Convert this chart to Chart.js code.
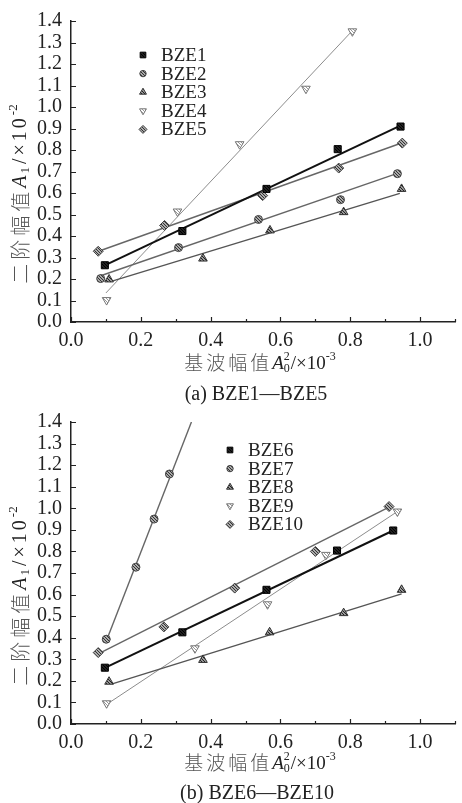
<!DOCTYPE html>
<html>
<head>
<meta charset="utf-8">
<script src="https://cdn.jsdelivr.net/npm/chart.js@4.4.0/dist/chart.umd.min.js"></script>
<style>
  body { margin: 0; background: #fff; }
  .box { position: absolute; left: 0; width: 462px; }
  #boxA { top: 0; height: 412px; }
  #boxB { top: 400px; height: 403px; }
</style>
</head>
<body>
<div class="box" id="boxA"><canvas id="chartA" width="462" height="412"></canvas></div>
<div class="box" id="boxB"><canvas id="chartB" width="462" height="403"></canvas></div>
<script>
// (a) BZE1—BZE5 measured points
const bze1X = [0.097, 0.319, 0.560, 0.764, 0.944];
const bze1Y = [0.264, 0.423, 0.619, 0.804, 0.909];
const bze2X = [0.085, 0.308, 0.537, 0.772, 0.935];
const bze2Y = [0.202, 0.346, 0.477, 0.569, 0.690];
const bze3X = [0.109, 0.378, 0.570, 0.781, 0.947];
const bze3Y = [0.198, 0.295, 0.426, 0.511, 0.619];
const bze4X = [0.102, 0.305, 0.483, 0.673, 0.806];
const bze4Y = [0.102, 0.514, 0.827, 1.085, 1.352];
const bze5X = [0.078, 0.268, 0.549, 0.767, 0.949];
const bze5Y = [0.329, 0.449, 0.588, 0.716, 0.832];

// (a) fitted lines, two ends each
const fit1X = [0.095, 0.942];
const fit1Y = [0.262, 0.912];
const fit2X = [0.085, 0.935];
const fit2Y = [0.215, 0.691];
const fit3X = [0.113, 0.942];
const fit3Y = [0.188, 0.598];
const fit4X = [0.100, 0.806];
const fit4Y = [0.135, 1.355];
const fit5X = [0.079, 0.951];
const fit5Y = [0.329, 0.835];

// (b) BZE6—BZE10 measured points
const bze6X = [0.097, 0.319, 0.560, 0.762, 0.923];
const bze6Y = [0.261, 0.425, 0.622, 0.804, 0.897];
const bze7X = [0.101, 0.186, 0.238, 0.282];
const bze7Y = [0.393, 0.727, 0.950, 1.159];
const bze8X = [0.109, 0.378, 0.569, 0.781, 0.947];
const bze8Y = [0.196, 0.297, 0.425, 0.514, 0.622];
const bze9X = [0.102, 0.355, 0.563, 0.730, 0.935];
const bze9Y = [0.096, 0.351, 0.555, 0.784, 0.985];
const bze10X = [0.078, 0.266, 0.469, 0.700, 0.911];
const bze10Y = [0.331, 0.450, 0.630, 0.800, 1.008];

// (b) fitted lines
const fit6X = [0.097, 0.923];
const fit6Y = [0.260, 0.897];
const fit7X = [0.100, 0.345];
const fit7Y = [0.380, 1.400];
const fit8X = [0.118, 0.947];
const fit8Y = [0.186, 0.603];
const fit9X = [0.104, 0.935];
const fit9Y = [0.093, 0.985];
const fit10X = [0.078, 0.911];
const fit10Y = [0.325, 1.005];

const labelsA = ["BZE1", "BZE2", "BZE3", "BZE4", "BZE5"];
const labelsB = ["BZE6", "BZE7", "BZE8", "BZE9", "BZE10"];

const xMin = 0, xMax = 1.1, xStep = 0.1;
const yMin = 0, yMax = 1.4, yStep = 0.1;

const serif = '"Liberation Serif", "DejaVu Serif", serif';
const cjk = '"Noto Sans CJK SC", "Noto Sans CJK JP", sans-serif';

function pairs(xs, ys) {
  return xs.map((x, i) => ({ x: x, y: ys[i] }));
}

// small hatch tile so the markers look grainy like print
function hatch(bg, fg) {
  const c = document.createElement("canvas");
  c.width = 3;
  c.height = 3;
  const g = c.getContext("2d");
  g.fillStyle = bg;
  g.fillRect(0, 0, 3, 3);
  g.fillStyle = fg;
  g.fillRect(0, 0, 1, 1);
  g.fillRect(1, 1, 1, 1);
  g.fillRect(2, 2, 1, 1);
  return g.createPattern(c, "repeat");
}

// one look per slot, shared by both panels
const looks = [
  { style: "rect", radius: 5, rot: 0, fill: hatch("#222", "#000"), edge: "#000", line: "#111", width: 2 },
  { style: "circle", radius: 4, rot: 0, fill: hatch("#a8a8a8", "#333"), edge: "#444", line: "#666", width: 1.4 },
  { style: "triangle", radius: 5, rot: 0, fill: hatch("#999", "#222"), edge: "#333", line: "#555", width: 1.4 },
  { style: "triangle", radius: 5, rot: 180, fill: hatch("#fff", "#999"), edge: "#777", line: "#8c8c8c", width: 1 },
  { style: "rectRot", radius: 5, rot: 0, fill: hatch("#aaa", "#333"), edge: "#444", line: "#666", width: 1.4 },
];

function buildDatasets(labels, pts, fits) {
  const sets = [];
  labels.forEach((lab, i) => {
    const lk = looks[i];
    sets.push({
      label: "",
      data: fits[i],
      showLine: true,
      pointRadius: 0,
      borderColor: lk.line,
      borderWidth: lk.width,
      fill: false,
      order: 2,
    });
    sets.push({
      label: lab,
      data: pts[i],
      showLine: false,
      pointStyle: lk.style,
      pointRadius: lk.radius,
      pointRotation: lk.rot,
      pointBackgroundColor: lk.fill,
      pointBorderColor: lk.edge,
      pointBorderWidth: 1,
      order: 1,
    });
  });
  return sets;
}

// text runs drawn char by char; a part without text carries sub/superscripts
function partWidth(ctx, p) {
  if (p.text) {
    ctx.font = p.font;
    let w = 0;
    for (const ch of p.text) w += ctx.measureText(ch).width + p.gap;
    return w;
  }
  ctx.font = p.small;
  const a = p.sub ? ctx.measureText(p.sub).width : 0;
  const b = p.sup ? ctx.measureText(p.sup).width : 0;
  return Math.max(a, b) + p.gap;
}

function richWidth(ctx, parts) {
  return parts.reduce((s, p) => s + partWidth(ctx, p), 0);
}

function drawRich(ctx, parts, x, y) {
  ctx.textBaseline = "middle";
  ctx.textAlign = "left";
  parts.forEach((p) => {
    if (p.text) {
      ctx.fillStyle = p.color || "#222";
      ctx.font = p.font;
      for (const ch of p.text) {
        ctx.fillText(ch, x, y + (p.dy || 0));
        x += ctx.measureText(ch).width + p.gap;
      }
    } else {
      ctx.fillStyle = "#222";
      ctx.font = p.small;
      if (p.sub) ctx.fillText(p.sub, x, y + 6);
      if (p.sup) ctx.fillText(p.sup, x, y - 6);
      x += partWidth(ctx, p);
    }
  });
}

const latinFont = "19px " + serif;
const tickFont = { family: serif, size: 20 };

const xTitleParts = [
  { text: "基波幅值", font: "300 19px " + cjk, gap: 3, color: "#555" },
  { text: "A", font: "italic 19px " + serif, gap: 0, dy: 1 },
  { sub: "0", sup: "2", small: "12px " + serif, gap: 1 },
  { text: "/×10", font: "19px " + serif, gap: 0, dy: 1 },
  { sup: "-3", small: "12px " + serif, gap: 0 },
];
const yTitleParts = [
  { text: "二阶幅值", font: "300 20px " + cjk, gap: 4, color: "#555" },
  { text: "A", font: "italic 20px " + serif, gap: 2, dy: 1 },
  { sub: "1", small: "13px " + serif, gap: 3 },
  { text: "/×10", font: "20px " + serif, gap: 3, dy: 1 },
  { sup: "-2", small: "13px " + serif, gap: 0 },
];

const decor = {
  id: "decor",
  afterDraw(chart, args, o) {
    const ctx = chart.ctx;
    const area = chart.chartArea;
    const xs = chart.scales.x;
    const ys = chart.scales.y;
    ctx.save();

    // tick marks pointing into the plot
    ctx.strokeStyle = "#222";
    ctx.lineWidth = 1.2;
    ctx.beginPath();
    xs.ticks.forEach((t) => {
      const px = Math.round(xs.getPixelForValue(t.value)) + 0.5;
      const major = Math.round(t.value * 10) % 2 === 0;
      ctx.moveTo(px, area.bottom);
      ctx.lineTo(px, area.bottom - (major ? 5 : 3));
    });
    ys.ticks.forEach((t) => {
      const py = Math.round(ys.getPixelForValue(t.value)) + 0.5;
      ctx.moveTo(area.left, py);
      ctx.lineTo(area.left + 5, py);
    });
    ctx.stroke();

    // legend
    const marks = chart.data.datasets.filter((d) => d.label);
    marks.forEach((d, i) => {
      const y = o.legendY + i * o.legendStep;
      ctx.fillStyle = d.pointBackgroundColor;
      ctx.strokeStyle = d.pointBorderColor;
      ctx.lineWidth = 1;
      Chart.helpers.drawPoint(ctx, {
        pointStyle: d.pointStyle,
        radius: d.pointRadius * 0.8,
        rotation: d.pointRotation,
        borderWidth: 1,
      }, o.legendX, y);
      ctx.fillStyle = "#222";
      ctx.font = latinFont;
      ctx.textBaseline = "middle";
      ctx.textAlign = "left";
      ctx.fillText(d.label, o.legendTextX, y + 1);
    });

    // x title
    const wx = richWidth(ctx, xTitleParts);
    drawRich(ctx, xTitleParts, o.xTitleCenter - wx / 2, o.xTitleY);

    // y title, turned
    const wy = richWidth(ctx, yTitleParts);
    ctx.save();
    ctx.translate(o.yTitleX, o.yTitleCenter);
    ctx.rotate(-Math.PI / 2);
    drawRich(ctx, yTitleParts, -wy / 2, 0);
    ctx.restore();

    // caption under the panel
    ctx.fillStyle = "#222";
    ctx.font = "20px " + serif;
    ctx.textAlign = "center";
    ctx.textBaseline = "middle";
    ctx.fillText(o.caption, o.captionX, o.captionY);

    ctx.restore();
  },
};

function makeChart(id, labels, pts, fits, padTop, xAxisH, deco) {
  return new Chart(document.getElementById(id), {
    type: "scatter",
    data: { datasets: buildDatasets(labels, pts, fits) },
    options: {
      responsive: false,
      animation: false,
      layout: { padding: { top: padTop, left: 0, right: 0, bottom: 0 } },
      plugins: {
        legend: { display: false },
        tooltip: { enabled: false },
        decor: deco,
      },
      scales: {
        x: {
          type: "linear",
          min: xMin,
          max: xMax,
          grid: { display: false, drawTicks: false },
          border: { display: true, color: "#222", width: 1.5 },
          ticks: {
            stepSize: xStep,
            autoSkip: false,
            maxRotation: 0,
            padding: 7,
            color: "#222",
            font: tickFont,
            callback: function (v) {
              const k = Math.round(v * 10);
              return k % 2 === 0 && k <= 10 ? (k / 10).toFixed(1) : "";
            },
          },
          afterFit: function (s) {
            s.height = xAxisH;
          },
        },
        y: {
          type: "linear",
          min: yMin,
          max: yMax,
          grid: { display: false, drawTicks: false },
          border: { display: true, color: "#222", width: 1.5 },
          ticks: {
            stepSize: yStep,
            autoSkip: false,
            padding: 9,
            color: "#222",
            font: tickFont,
            callback: function (v) {
              return (Math.round(v * 10) / 10).toFixed(1);
            },
          },
          afterFit: function (s) {
            s.width = 71;
          },
        },
      },
    },
    plugins: [decor],
  });
}

makeChart(
  "chartA",
  labelsA,
  [pairs(bze1X, bze1Y), pairs(bze2X, bze2Y), pairs(bze3X, bze3Y), pairs(bze4X, bze4Y), pairs(bze5X, bze5Y)],
  [pairs(fit1X, fit1Y), pairs(fit2X, fit2Y), pairs(fit3X, fit3Y), pairs(fit4X, fit4Y), pairs(fit5X, fit5Y)],
  19, 90,
  {
    legendX: 143, legendTextX: 161, legendY: 55, legendStep: 18.6,
    xTitleCenter: 260, xTitleY: 363,
    yTitleX: 20, yTitleCenter: 194,
    caption: "(a) BZE1—BZE5", captionX: 256, captionY: 395,
  }
);

makeChart(
  "chartB",
  labelsB,
  [pairs(bze6X, bze6Y), pairs(bze7X, bze7Y), pairs(bze8X, bze8Y), pairs(bze9X, bze9Y), pairs(bze10X, bze10Y)],
  [pairs(fit6X, fit6Y), pairs(fit7X, fit7Y), pairs(fit8X, fit8Y), pairs(fit9X, fit9Y), pairs(fit10X, fit10Y)],
  22, 79,
  {
    legendX: 230, legendTextX: 248, legendY: 50, legendStep: 18.6,
    xTitleCenter: 260, xTitleY: 363,
    yTitleX: 20, yTitleCenter: 196,
    caption: "(b) BZE6—BZE10", captionX: 257, captionY: 394,
  }
);
</script>
</body>
</html>
